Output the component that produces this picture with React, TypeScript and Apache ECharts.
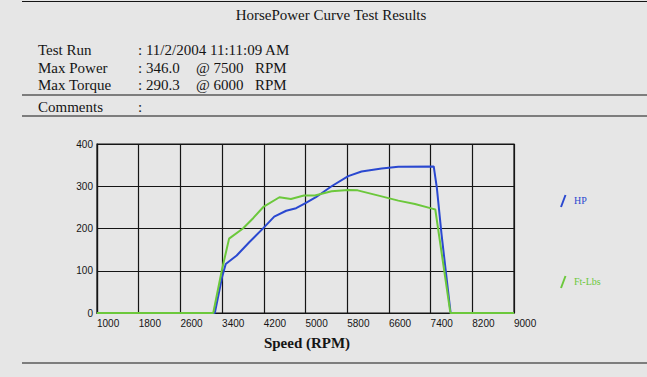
import React, { useEffect, useRef } from "react";
import * as echarts from "echarts";

const TITLE = "HorsePower Curve Test Results";
const INFO_LABELS = ["Test Run", "Max Power", "Max Torque"];
const INFO_VALUES = [": 11/2/2004 11:11:09 AM", ": 346.0", ": 290.3"];
const INFO_AT = ["", "@ 7500", "@ 6000"];
const INFO_UNIT = ["", "RPM", "RPM"];
const COMMENTS_LABEL = "Comments";
const X_TITLE = "Speed (RPM)";
const SERIES_NAMES = ["HP", "Ft-Lbs"];

const RPM_MIN = 1000;
const RPM_MAX = 9000;
const RPM_STEP = 800;

// [rpm, HP]
const hpData: [number, number][] = [
  [1000, 0], [3260, 0], [3400, 85], [3470, 116], [3680, 136], [3925, 168],
  [4200, 202], [4400, 228], [4630, 242], [4820, 248], [5000, 260], [5200, 274],
  [5500, 300], [5820, 324], [6075, 335], [6460, 342], [6780, 346], [7460, 347],
  [7520, 296], [7610, 186], [7784, 0], [9000, 0],
];

// [rpm, Ft-Lbs]
const torqueData: [number, number][] = [
  [1000, 0], [3230, 0], [3400, 104], [3534, 176], [3800, 200], [4000, 225],
  [4200, 252], [4500, 274], [4720, 270], [4970, 278], [5180, 278], [5500, 288],
  [5820, 291], [6000, 290.3], [6460, 276], [6780, 266], [7100, 258], [7430, 247],
  [7490, 245], [7780, 0], [9000, 0],
];

const BLUE = "#2a48d0";
const GREEN = "#6cc83c";
const INK = "#151515";
const BG = "#e6e6e6";
const SERIF = "'Liberation Serif', 'Times New Roman', serif";

export default function App() {
  const ref = useRef<HTMLDivElement>(null);
  useEffect(() => {
    document.body.style.margin = "0";
    if (!ref.current) return;
    const chart = echarts.init(ref.current, undefined, { renderer: "svg" });
    const shift = (d: [number, number][]) => d.map(([r, v]) => [r - RPM_MIN, v]);

    const graphic: any[] = [];
    const hline = (y: number, x1: number, x2: number) =>
      graphic.push({ type: "line", shape: { x1, y1: y, x2, y2: y }, style: { stroke: INK, lineWidth: 1.2 } });
    hline(1.5, 22, 647);
    hline(95, 22, 647);
    hline(116, 22, 647);
    hline(363, 22, 647);
    const txt = (x: number, y: number, text: string, extra: any = {}) =>
      graphic.push({
        type: "text", x, y,
        style: { text, fill: INK, font: `15px ${SERIF}`, textVerticalAlign: "middle", ...extra },
      });
    txt(331, 15, TITLE, { textAlign: "center" });
    const rows = [50, 68, 85];
    INFO_LABELS.forEach((l, i) => {
      txt(38, rows[i], l);
      txt(138, rows[i], INFO_VALUES[i]);
      if (INFO_AT[i]) txt(196, rows[i], INFO_AT[i]);
      if (INFO_UNIT[i]) txt(255, rows[i], INFO_UNIT[i]);
    });
    txt(38, 107, COMMENTS_LABEL);
    txt(138, 107, ":");
    txt(307, 343, X_TITLE, { textAlign: "center", font: `bold 15px ${SERIF}` });
    // legend
    const leg = [
      { y: 201, color: BLUE, name: SERIES_NAMES[0] },
      { y: 282, color: GREEN, name: SERIES_NAMES[1] },
    ];
    leg.forEach((g) => {
      graphic.push({
        type: "line",
        shape: { x1: 565.5, y1: g.y - 6, x2: 561, y2: g.y + 6 },
        style: { stroke: g.color, lineWidth: 2 },
      });
      graphic.push({
        type: "text", x: 574, y: g.y - 1,
        style: { text: g.name, fill: g.color, font: `10px ${SERIF}`, textVerticalAlign: "middle" },
      });
    });

    chart.setOption({
      animation: false,
      backgroundColor: BG,
      grid: { left: 97, top: 144, width: 417, height: 169, show: true, borderColor: INK, borderWidth: 1.2, backgroundColor: "transparent" },
      xAxis: {
        type: "value",
        min: 0,
        max: RPM_MAX - RPM_MIN,
        interval: RPM_STEP,
        axisLine: { show: true, lineStyle: { color: INK, width: 1.2 } },
        axisTick: { show: false },
        splitLine: { show: true, lineStyle: { color: INK, width: 1.2 } },
        axisLabel: {
          formatter: (v: number) => String(v + RPM_MIN),
          align: "left",
          margin: 5,
          color: INK,
          fontSize: 10,
          fontFamily: "'Liberation Sans Narrow', 'Liberation Sans', sans-serif",
        },
      },
      yAxis: {
        type: "value",
        min: 0,
        max: 400,
        interval: 100,
        axisLine: { show: true, lineStyle: { color: INK, width: 1.2 } },
        axisTick: { show: false },
        splitLine: { show: true, lineStyle: { color: INK, width: 1.2 } },
        axisLabel: {
          margin: 4,
          color: INK,
          fontSize: 10,
          fontFamily: "'Liberation Sans Narrow', 'Liberation Sans', sans-serif",
        },
      },
      series: [
        {
          name: SERIES_NAMES[0], type: "line", data: shift(hpData), showSymbol: false,
          lineStyle: { color: BLUE, width: 2 }, itemStyle: { color: BLUE }, z: 3,
        },
        {
          name: SERIES_NAMES[1], type: "line", data: shift(torqueData), showSymbol: false,
          lineStyle: { color: GREEN, width: 2 }, itemStyle: { color: GREEN }, z: 4,
        },
      ],
      graphic,
    });
    return () => chart.dispose();
  }, []);
  return <div ref={ref} style={{ width: 647, height: 377 }} />;
}
